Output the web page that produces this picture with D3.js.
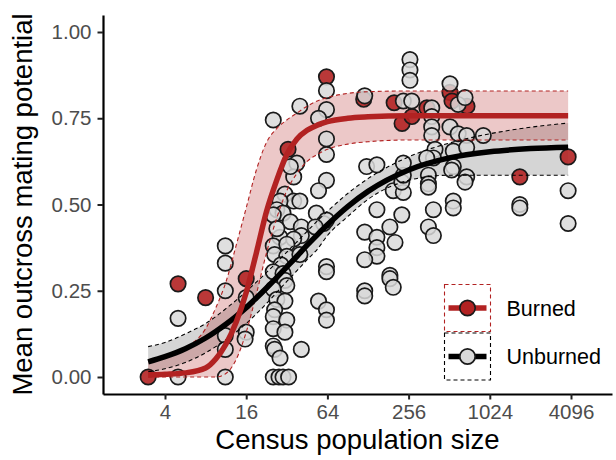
<!DOCTYPE html>
<html><head><meta charset="utf-8">
<script src="https://cdn.jsdelivr.net/npm/d3@7"></script>
<style>body{margin:0;background:#fff;} svg{display:block;font-family:"Liberation Sans",Arial,sans-serif;}</style>
</head><body><svg id="c" width="616" height="460"></svg>
<script>
// ---------- data ----------
const xTicks = [4, 16, 64, 256, 1024, 4096];
const yTicks = [0, 0.25, 0.5, 0.75, 1];
const groups = ["Burned", "Unburned"];

// fitted curves on a grid of population sizes
const fitN = [3, 4, 5.66, 8, 9.51, 11.31, 13.45, 16, 19.03, 22.63, 26.91, 32, 38.05, 45.25, 53.82, 64, 90.51, 128, 256, 512, 1024, 2048, 3900];
const burnedFit   = [0.006, 0.008, 0.012, 0.026, 0.052, 0.095, 0.158, 0.245, 0.36, 0.48, 0.57, 0.645, 0.69, 0.715, 0.73, 0.74, 0.75, 0.754, 0.757, 0.757, 0.757, 0.757, 0.757];
const burnedUpper = [0.05, 0.06, 0.085, 0.14, 0.20, 0.275, 0.38, 0.49, 0.60, 0.68, 0.72, 0.745, 0.765, 0.785, 0.80, 0.81, 0.822, 0.827, 0.829, 0.829, 0.829, 0.829, 0.829];
const burnedLower = [0, 0, 0, 0, 0, 0.01, 0.05, 0.13, 0.24, 0.36, 0.46, 0.54, 0.59, 0.625, 0.645, 0.66, 0.675, 0.682, 0.687, 0.687, 0.687, 0.687, 0.687];
const unburnedFit   = [0.044, 0.059, 0.082, 0.113, 0.132, 0.153, 0.176, 0.201, 0.229, 0.258, 0.288, 0.319, 0.350, 0.382, 0.412, 0.441, 0.494, 0.538, 0.600, 0.635, 0.653, 0.662, 0.666];
const unburnedUpper = [0.088, 0.10, 0.125, 0.155, 0.175, 0.198, 0.222, 0.248, 0.275, 0.303, 0.332, 0.362, 0.392, 0.422, 0.452, 0.48, 0.532, 0.575, 0.638, 0.678, 0.705, 0.724, 0.736];
const unburnedLower = [0.015, 0.024, 0.042, 0.07, 0.088, 0.108, 0.13, 0.155, 0.183, 0.213, 0.245, 0.277, 0.308, 0.34, 0.37, 0.41, 0.465, 0.515, 0.57, 0.585, 0.585, 0.585, 0.585];

// observed points
const unburnedN = [5, 5, 11.2, 11.2, 11.2, 11.2, 11.2, 11.2, 16, 16, 15.7,
  25.4, 40, 38, 36, 34, 31, 36, 28.5, 27, 30, 25.4, 34, 40, 41, 41, 28.5, 36, 27, 25.4, 32, 26, 32, 40, 29, 25.4, 30, 31, 32, 25.4, 27, 31, 26, 25.4, 32, 25.4, 31, 25.4, 26, 28.5, 41, 25.4, 28, 30, 33,
  63, 63, 55, 63, 63, 63, 55, 53, 60, 63, 52, 63, 63, 55, 63, 63,
  121, 125, 149, 149, 121, 149, 149, 149, 121, 121, 121, 186, 186, 197, 186, 203, 197, 234, 228, 234, 234, 228, 234, 270, 262, 262, 262,
  380, 380, 380, 380, 402, 391, 349, 359, 359, 359, 391, 359, 391,
  519, 597, 671, 519, 597, 690, 549, 690, 549, 534, 690, 671, 549, 549, 916,
  1710, 1710, 3900, 3900];
const unburnedY = [0.17, 0.00, 0.38, 0.33, 0.25, 0.12, 0.08, 0.00, 0.23, 0.13, 0.11,
  0.745, 0.785, 0.62, 0.58, 0.61, 0.53, 0.51, 0.51, 0.485, 0.475, 0.47, 0.45, 0.51, 0.435, 0.41, 0.405, 0.40, 0.43, 0.38, 0.385, 0.355, 0.35, 0.355, 0.325, 0.305, 0.30, 0.28, 0.265, 0.255, 0.225, 0.22, 0.195, 0.175, 0.165, 0.14, 0.13, 0.09, 0.08, 0.055, 0.08, 0.00, 0.00, 0.00, 0.00,
  0.83, 0.775, 0.75, 0.69, 0.645, 0.57, 0.54, 0.475, 0.445, 0.455, 0.435, 0.32, 0.305, 0.22, 0.195, 0.165,
  0.815, 0.61, 0.615, 0.485, 0.42, 0.405, 0.375, 0.35, 0.34, 0.25, 0.235, 0.295, 0.285, 0.26, 0.435, 0.39, 0.54, 0.535, 0.565, 0.585, 0.62, 0.47, 0.80, 0.80, 0.92, 0.89, 0.86,
  0.78, 0.755, 0.725, 0.70, 0.66, 0.635, 0.635, 0.585, 0.56, 0.55, 0.485, 0.435, 0.41,
  0.85, 0.79, 0.81, 0.725, 0.705, 0.70, 0.655, 0.665, 0.61, 0.60, 0.58, 0.565, 0.51, 0.49, 0.70,
  0.50, 0.49, 0.54, 0.445];
const burnedN = [3, 5, 8, 16, 32.7, 63, 119, 200, 229, 271, 350, 519, 537, 694, 1710, 3900];
const burnedY = [0.00, 0.27, 0.23, 0.285, 0.66, 0.87, 0.805, 0.795, 0.735, 0.755, 0.78, 0.825, 0.80, 0.785, 0.58, 0.638];

// ---------- styles ----------
const RED = "#B22222";
const GREY_PT = "#D9D9D9";

const svg = d3.select("#c");
const panel = {left: 103, right: 612, top: 15, bottom: 394};

const xBase = d3.scaleLog().base(2).domain([4, 4096]).range([165, 571]);
const x = xBase.copy().domain([xBase.invert(panel.left), xBase.invert(panel.right)]).range([panel.left, panel.right]);
const yBase = d3.scaleLinear().domain([0, 1]).range([377, 32]);
const y = yBase.copy().domain([yBase.invert(panel.bottom), yBase.invert(panel.top)]).range([panel.bottom, panel.top]);

const fitRows = fitN.map((n, i) => ({n, bf: burnedFit[i], bu: burnedUpper[i], bl: burnedLower[i], uf: unburnedFit[i], uu: unburnedUpper[i], ul: unburnedLower[i]}));
const curve = d3.curveMonotoneX;

function area(lo, hi) { return d3.area().x(d => x(d.n)).y0(d => y(d[lo])).y1(d => y(d[hi])).curve(curve); }
function line(k) { return d3.line().x(d => x(d.n)).y(d => y(d[k])).curve(curve); }

// ribbons fill
svg.append("path").datum(fitRows).attr("d", area("ul", "uu")).attr("fill", "#7f7f7f").attr("fill-opacity", 0.33);
svg.append("path").datum(fitRows).attr("d", area("bl", "bu")).attr("fill", RED).attr("fill-opacity", 0.25);

// points (burned first, unburned drawn over them)
const gPts = svg.append("g");
gPts.selectAll("circle.b").data(burnedN.map((n, i) => ({n, v: burnedY[i]}))).join("circle").attr("class", "b")
  .attr("cx", d => x(d.n)).attr("cy", d => y(d.v)).attr("r", 7.7)
  .attr("fill", RED).attr("fill-opacity", 0.9).attr("stroke", "#1a1a1a").attr("stroke-width", 1.7);
gPts.selectAll("circle.u").data(unburnedN.map((n, i) => ({n, v: unburnedY[i]}))).join("circle").attr("class", "u")
  .attr("cx", d => x(d.n)).attr("cy", d => y(d.v)).attr("r", 7.7)
  .attr("fill", GREY_PT).attr("fill-opacity", 0.85).attr("stroke", "#1a1a1a").attr("stroke-width", 1.7);

// ribbon edges
[["uu", "#000"], ["ul", "#000"], ["bu", RED], ["bl", RED]].forEach(([k, c]) => {
  svg.append("path").datum(fitRows).attr("d", line(k)).attr("fill", "none")
    .attr("stroke", c).attr("stroke-width", 1.1).attr("stroke-dasharray", "4,3");
});

// fitted lines
svg.append("path").datum(fitRows).attr("d", line("uf")).attr("fill", "none").attr("stroke", "#000").attr("stroke-width", 5.5);
svg.append("path").datum(fitRows).attr("d", line("bf")).attr("fill", "none").attr("stroke", RED).attr("stroke-width", 5.5);

// axes
const xAxis = svg.append("g").attr("transform", `translate(0,${panel.bottom})`)
  .call(d3.axisBottom(x).tickValues(xTicks).tickFormat(d3.format("d")).tickSizeInner(5.5).tickSizeOuter(0).tickPadding(5));
const yAxis = svg.append("g").attr("transform", `translate(${panel.left},0)`)
  .call(d3.axisLeft(y).tickValues(yTicks).tickFormat(d3.format(".2f")).tickSizeInner(5.5).tickSizeOuter(0).tickPadding(6));
[xAxis, yAxis].forEach(g => {
  g.select(".domain").attr("stroke", "#000").attr("stroke-width", 2.2);
  g.selectAll(".tick line").attr("stroke", "#222").attr("stroke-width", 2);
  g.selectAll(".tick text").attr("fill", "#4D4D4D").attr("font-size", 20.5).attr("font-family", "Liberation Sans, Arial, sans-serif");
});

// axis titles
svg.append("text").attr("x", (panel.left + panel.right) / 2).attr("y", 449).attr("text-anchor", "middle")
  .attr("font-size", 27.5).attr("fill", "#000").text("Census population size");
svg.append("text").attr("transform", `translate(32,${(panel.top + panel.bottom) / 2}) rotate(-90)`).attr("text-anchor", "middle")
  .attr("font-size", 27.5).attr("fill", "#000").text("Mean outcross mating potential");

// legend
const leg = svg.append("g");
const keyStyle = {Burned: {c: RED, fill: RED}, Unburned: {c: "#000", fill: GREY_PT}};
groups.forEach((gname, i) => {
  const top = 284.5 + i * 48.5;
  const st = keyStyle[gname];
  leg.append("rect").attr("x", 444.5).attr("y", top).attr("width", 46).attr("height", 47)
    .attr("fill", "#fff").attr("stroke", st.c).attr("stroke-width", 1.1).attr("stroke-dasharray", "4,3");
  const cy = top + 23.5;
  leg.append("line").attr("x1", 448.5).attr("x2", 486.5).attr("y1", cy).attr("y2", cy).attr("stroke", st.c).attr("stroke-width", 5.5);
  leg.append("circle").attr("cx", 467.5).attr("cy", cy).attr("r", 7.7).attr("fill", st.fill).attr("stroke", "#1a1a1a").attr("stroke-width", 1.7);
  leg.append("text").attr("x", 506.5).attr("y", cy + 7.8).attr("font-size", 21.5).attr("fill", "#000").text(gname);
});
</script></body></html>
